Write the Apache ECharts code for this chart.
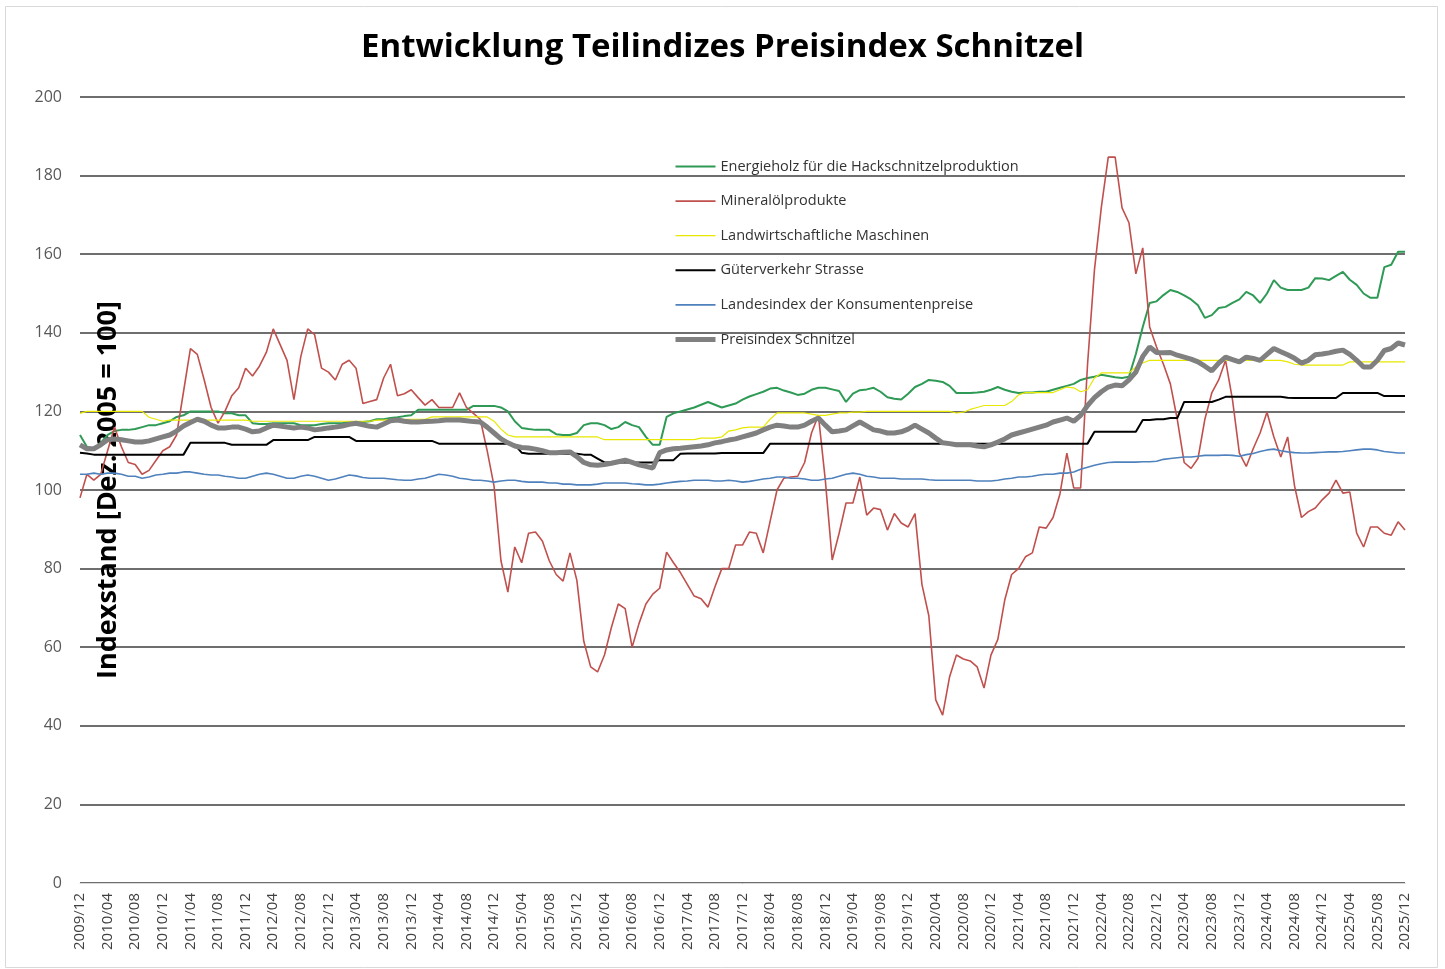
<!DOCTYPE html>
<html>
<head>
<meta charset="utf-8">
<title>Entwicklung Teilindizes Preisindex Schnitzel</title>
<script src="https://cdn.jsdelivr.net/npm/echarts@6.0.0/dist/echarts.min.js"></script>
<style>
  html, body { margin: 0; padding: 0; background: #fff; }
  #chart-container { width: 1445px; height: 969px; }
</style>
</head>
<body>
<div id="chart-container"></div>
<script>
// monthly labels 2009/12 .. 2025/12
var months = [];
for (var i = 0; i < 193; i++) {
  var m = (11 + i) % 12 + 1;
  var y = 2009 + Math.floor((11 + i) / 12);
  months.push(y + '/' + (m < 10 ? '0' + m : m));
}

// one row per year, first value = 2009/12
var energieholz = [114,
  111, 110.5, 112, 114, 115, 115.3, 115.3, 115.5, 116, 116.5, 116.5, 117,
  117.5, 118.6, 119, 120, 120, 120, 120, 120, 119.5, 119.5, 119, 119,
  117, 116.8, 116.8, 117, 117, 117, 117, 116.5, 116.5, 116.5, 116.8, 117,
  117, 117, 117.3, 117.3, 117.3, 117.5, 118, 118, 118.3, 118.5, 118.8, 119,
  120.4, 120.4, 120.4, 120.4, 120.4, 120.4, 120.4, 120.4, 121.4, 121.4, 121.4, 121.4,
  121, 120, 117.5, 115.8, 115.5, 115.3, 115.3, 115.3, 114.2, 114, 114, 114.5,
  116.5, 117, 117, 116.5, 115.5, 116, 117.3, 116.5, 116, 113.5, 111.5, 111.5,
  118.6, 119.5, 120, 120.5, 121, 121.7, 122.4, 121.7, 121, 121.5, 122, 123,
  123.8, 124.4, 125, 125.8, 126, 125.3, 124.8, 124.2, 124.5, 125.5, 126, 126,
  125.6, 125.2, 122.4, 124.5, 125.4, 125.6, 126, 125, 123.6, 123.2, 123, 124.5,
  126.2, 127, 128, 127.8, 127.5, 126.5, 124.7, 124.7, 124.7, 124.8, 125, 125.5,
  126.2, 125.5, 125, 124.7, 124.8, 124.8, 125, 125, 125.5, 126, 126.5, 127,
  128, 128.5, 128.8, 129.3, 129, 128.7, 128.5, 128.8, 134.6, 141.5, 147.6, 148,
  149.6, 150.9, 150.4, 149.5, 148.5, 147, 143.8, 144.5, 146.3, 146.6, 147.6, 148.5,
  150.4, 149.5, 147.6, 150, 153.4, 151.5, 150.9, 150.9, 150.9, 151.5, 153.9, 153.8,
  153.4, 154.5, 155.5, 153.5, 152.2, 150, 148.9, 148.9, 156.7, 157.3, 160.6, 160.6];

var mineraloel = [98,
  104, 102.5, 104, 110, 116, 111, 107, 106.5, 104, 105, 107.5, 110,
  111, 114, 125, 136, 134.5, 128, 121, 117, 120, 124, 126, 131,
  129, 131.5, 135, 141, 137, 133, 123, 134, 141, 139.5, 131, 130,
  128, 132, 133, 131, 122, 122.5, 123, 128.5, 132, 124, 124.5, 125.5,
  123.5, 121.6, 123, 121, 121, 121, 124.7, 121, 119.5, 118, 110, 101,
  82, 74, 85.5, 81.5, 89, 89.3, 87, 82, 78.5, 76.8, 84, 77,
  61.5, 55, 53.7, 58, 65, 71, 69.8, 60, 66, 71, 73.5, 75,
  84.2, 81.5, 79, 76, 73, 72.3, 70.2, 75.3, 80, 80, 86, 86,
  89.3, 89, 84, 92, 100, 103, 103.3, 103.5, 107, 114.5, 119, 102.5,
  82.2, 89, 96.7, 96.7, 103.3, 93.6, 95.4, 95, 89.8, 94, 91.6, 90.6,
  94, 76, 68, 46.6, 42.7, 52.4, 58, 57, 56.5, 55, 49.6, 58,
  62, 72, 78.5, 80, 83, 84, 90.6, 90.3, 93, 99, 109.4, 100.5,
  100.5, 132, 156, 172, 184.7, 184.7, 171.8, 168, 155, 161.6, 141.5, 136.4,
  132, 127, 118, 107, 105.5, 108, 118, 124.7, 128, 133, 123, 109.4,
  106, 110.5, 114.5, 119.8, 113.5, 108.4, 113.5, 101, 93, 94.5, 95.4, 97.5,
  99.2, 102.5, 99.2, 99.5, 89, 85.5, 90.6, 90.6, 89, 88.5, 91.9, 89.8];

var maschinen = [119.5,
  120, 120, 120, 120, 120, 120, 120, 120, 120, 118.5, 118, 117.5,
  117.8, 117.8, 117.8, 117.8, 117.8, 117.8, 117.8, 117.8, 117.8, 117.8, 117.8, 117.8,
  117.5, 117.5, 117.5, 117.5, 117.5, 117.5, 117.5, 117.5, 117.5, 117.5, 117.5, 117.5,
  117.5, 117.5, 117.5, 117.5, 117.5, 117.5, 117.8, 117.8, 118, 118, 118, 118,
  118, 118, 118.6, 118.6, 118.6, 118.6, 118.6, 118.6, 118.6, 118.6, 118.6, 117.5,
  115.5, 114, 113.5, 113.5, 113.5, 113.5, 113.5, 113.5, 113.5, 113.5, 113.5, 113.5,
  113.5, 113.5, 113.5, 112.8, 112.8, 112.8, 112.8, 112.8, 112.8, 112.8, 112.8, 112.8,
  112.8, 112.8, 112.8, 112.8, 112.8, 113.2, 113.2, 113.2, 113.5, 115, 115.3, 115.8,
  116, 116, 116, 118, 119.6, 119.6, 119.6, 119.6, 119.6, 119.3, 119, 119,
  119.3, 119.6, 119.6, 119.8, 119.8, 120, 120, 120, 120, 120, 120, 120,
  120, 120, 120, 120, 120, 120, 119.6, 119.8, 120.5, 121, 121.5, 121.5,
  121.5, 121.5, 122.5, 124.2, 124.8, 124.8, 124.8, 124.8, 124.8, 125.5, 126.2, 126,
  125, 125.5, 128.5, 129.8, 129.8, 129.8, 129.8, 129.8, 131.3, 132.3, 133, 133,
  133, 133, 133, 133, 133, 133, 133, 133, 133, 133, 133, 133,
  133, 133, 133, 133, 133, 133, 132.6, 132, 131.8, 131.8, 131.8, 131.8,
  131.8, 131.8, 131.8, 132.6, 132.6, 132.6, 132.6, 132.6, 132.6, 132.6, 132.6, 132.6];

var gueterverkehr = [109.5,
  109.3, 109, 109, 109, 109, 109, 109, 109, 109, 109, 109, 109,
  109, 109, 109, 112, 112, 112, 112, 112, 112, 111.5, 111.5, 111.5,
  111.5, 111.5, 111.5, 112.7, 112.7, 112.7, 112.7, 112.7, 112.7, 113.5, 113.5, 113.5,
  113.5, 113.5, 113.5, 112.5, 112.5, 112.5, 112.5, 112.5, 112.5, 112.5, 112.5, 112.5,
  112.5, 112.5, 112.5, 111.8, 111.8, 111.8, 111.8, 111.8, 111.8, 111.8, 111.8, 111.8,
  111.8, 111.8, 111.5, 109.5, 109.2, 109.2, 109.2, 109.2, 109.2, 109.2, 109.2, 109.2,
  109, 109, 108, 107, 107, 107, 107, 107, 107, 107, 107, 107.6,
  107.6, 107.6, 109.2, 109.3, 109.3, 109.3, 109.3, 109.3, 109.4, 109.4, 109.4, 109.4,
  109.4, 109.4, 109.4, 111.8, 111.8, 111.8, 111.8, 111.8, 111.8, 111.8, 111.8, 111.8,
  111.8, 111.8, 111.8, 111.8, 111.8, 111.8, 111.8, 111.8, 111.8, 111.8, 111.8, 111.8,
  111.8, 111.8, 111.8, 111.8, 111.8, 111.8, 111.8, 111.8, 111.8, 111.8, 111.8, 111.8,
  111.8, 111.8, 111.8, 111.8, 111.8, 111.8, 111.8, 111.8, 111.8, 111.8, 111.8, 111.8,
  111.8, 111.8, 114.8, 114.8, 114.8, 114.8, 114.8, 114.8, 114.8, 117.8, 117.8, 118,
  118, 118.3, 118.3, 122.4, 122.4, 122.4, 122.4, 122.4, 123, 123.7, 123.7, 123.7,
  123.7, 123.7, 123.7, 123.7, 123.7, 123.7, 123.5, 123.4, 123.4, 123.4, 123.4, 123.4,
  123.4, 123.4, 124.7, 124.7, 124.7, 124.7, 124.7, 124.7, 123.9, 123.9, 123.9, 123.9];

var konsumentenpreise = [104,
  104, 104.3, 104, 104.3, 104.3, 104, 103.5, 103.5, 103, 103.3, 103.8, 104,
  104.3, 104.3, 104.6, 104.6, 104.3, 104, 103.8, 103.8, 103.5, 103.3, 103, 103,
  103.5, 104, 104.3, 104, 103.5, 103, 103, 103.5, 103.8, 103.5, 103, 102.5,
  102.8, 103.3, 103.8, 103.6, 103.2, 103, 103, 103, 102.8, 102.6, 102.5, 102.5,
  102.8, 103, 103.5, 104, 103.8, 103.5, 103, 102.8, 102.5, 102.5, 102.3, 102,
  102.3, 102.5, 102.5, 102.2, 102, 102, 102, 101.8, 101.8, 101.5, 101.5, 101.3,
  101.3, 101.3, 101.5, 101.8, 101.8, 101.8, 101.8, 101.6, 101.5, 101.3, 101.3, 101.5,
  101.8, 102, 102.2, 102.3, 102.5, 102.5, 102.5, 102.3, 102.3, 102.5, 102.3, 102,
  102.2, 102.5, 102.8, 103, 103.3, 103.3, 103, 103, 102.8, 102.5, 102.5, 102.8,
  103, 103.5, 104, 104.3, 104, 103.5, 103.3, 103, 103, 103, 102.8, 102.8,
  102.8, 102.8, 102.6, 102.5, 102.5, 102.5, 102.5, 102.5, 102.5, 102.3, 102.3, 102.3,
  102.5, 102.8, 103, 103.3, 103.3, 103.5, 103.8, 104, 104, 104.3, 104.3, 104.6,
  105.3, 105.8, 106.3, 106.7, 107, 107.1, 107.1, 107.1, 107.1, 107.2, 107.2, 107.3,
  107.8, 108, 108.2, 108.4, 108.4, 108.6, 108.8, 108.8, 108.8, 108.9, 108.8, 108.6,
  109, 109.3, 109.8, 110.2, 110.4, 110, 109.7, 109.5, 109.4, 109.4, 109.5, 109.6,
  109.7, 109.7, 109.8, 110, 110.2, 110.4, 110.4, 110.2, 109.8, 109.6, 109.4, 109.4];

var schnitzel = [111.5,
  110.5, 110.5, 111.5, 112.8, 113, 112.8, 112.5, 112.2, 112.2, 112.5, 113, 113.5,
  114, 115, 116.3, 117.2, 118, 117.5, 116.5, 115.8, 115.8, 116, 116, 115.5,
  114.8, 115, 115.8, 116.5, 116.3, 116, 115.8, 116, 115.8, 115.3, 115.5, 115.8,
  116, 116.3, 116.7, 117, 116.6, 116.2, 116, 116.8, 117.6, 117.8, 117.5, 117.3,
  117.3, 117.4, 117.5, 117.6, 117.8, 117.8, 117.8, 117.6, 117.4, 117.3, 116, 114.5,
  113, 112, 111.2, 110.8, 110.7, 110.4, 110, 109.5, 109.5, 109.6, 109.7, 108.5,
  107, 106.4, 106.3, 106.5, 106.8, 107.2, 107.6, 107, 106.4, 106, 105.6, 109.5,
  110.2, 110.5, 110.6, 110.8, 111, 111.2, 111.5, 112, 112.3, 112.7, 113, 113.5,
  114, 114.5, 115.3, 116, 116.5, 116.3, 116, 116, 116.5, 117.5, 118.3, 116.5,
  114.8, 115, 115.3, 116.3, 117.3, 116.3, 115.3, 115, 114.5, 114.5, 114.8, 115.5,
  116.5, 115.5, 114.5, 113.2, 112, 111.8, 111.5, 111.5, 111.5, 111.2, 111, 111.5,
  112.2, 113, 114, 114.5, 115, 115.5, 116, 116.5, 117.3, 117.8, 118.3, 117.5,
  119, 121.5, 123.5, 125, 126.2, 126.7, 126.5, 128, 130, 134, 136.4, 135,
  134.9, 135, 134.3, 133.8, 133.3, 132.6, 131.5, 130.3, 132.3, 133.8, 133.2, 132.6,
  133.8, 133.5, 133, 134.5, 136, 135.2, 134.4, 133.5, 132.3, 133, 134.4, 134.6,
  134.9, 135.3, 135.6, 134.5, 133, 131.3, 131.3, 133, 135.5, 136, 137.4, 136.9];

var seriesNames = [
  'Energieholz für die Hackschnitzelproduktion',
  'Mineralölprodukte',
  'Landwirtschaftliche Maschinen',
  'Güterverkehr Strasse',
  'Landesindex der Konsumentenpreise',
  'Preisindex Schnitzel'
];
var seriesData = [energieholz, mineraloel, maschinen, gueterverkehr, konsumentenpreise, schnitzel];
var seriesColors = ['#2e9a55', '#c0504d', '#e8e800', '#000000', '#4f81bd', '#808080'];
var seriesWidths = [2, 1.6, 1.2, 2, 1.6, 5];

var dom = document.getElementById('chart-container');
var myChart = echarts.init(dom, null, { renderer: 'canvas' });

var option = {
  animation: false,
  backgroundColor: '#ffffff',
  textStyle: { fontFamily: 'Open Sans' },
  title: {
    text: 'Entwicklung Teilindizes Preisindex Schnitzel',
    left: 'center',
    top: 26,
    textStyle: { fontFamily: 'Open Sans', fontSize: 33, fontWeight: 'bold', color: '#000' }
  },
  graphic: [{
    type: 'rect',
    shape: { x: 5.5, y: 6.5, width: 1432, height: 961 },
    style: { fill: 'none', stroke: '#d9d9d9', lineWidth: 1 },
    silent: true
  }],
  legend: {
    orient: 'vertical',
    left: 668,
    top: 154,
    itemWidth: 40,
    itemHeight: 14,
    itemGap: 19.6,
    itemStyle: { opacity: 0 },
    data: seriesNames.map(function (name, k) {
      return { name: name, lineStyle: { color: seriesColors[k], width: seriesWidths[k] } };
    }),
    textStyle: { fontFamily: 'Open Sans', fontSize: 14.5, color: '#333' }
  },
  grid: { left: 80, right: 40, top: 97, bottom: 86 },
  xAxis: {
    type: 'category',
    data: months,
    boundaryGap: false,
    axisLine: { lineStyle: { color: '#d9d9d9', width: 1 } },
    axisTick: { show: false },
    axisLabel: {
      interval: 3,
      rotate: 90,
      margin: 10,
      hideOverlap: false,
      fontFamily: 'Open Sans',
      fontSize: 15,
      color: '#404040'
    },
    splitLine: { show: false }
  },
  yAxis: {
    type: 'value',
    min: 0,
    max: 200,
    interval: 20,
    name: 'Indexstand [Dez. 2005 = 100]',
    nameLocation: 'middle',
    nameRotate: 90,
    nameGap: -42,
    nameTextStyle: { fontFamily: 'Open Sans', fontSize: 27, fontWeight: 'bold', color: '#000' },
    axisLine: { show: false },
    axisTick: { show: false },
    axisLabel: { margin: 18, fontFamily: 'Open Sans', fontSize: 16, color: '#595959' },
    splitLine: { lineStyle: { color: '#6e6e6e', width: 2 } }
  },
  series: seriesNames.map(function (name, k) {
    return {
      name: name,
      type: 'line',
      data: seriesData[k],
      symbol: 'none',
      color: seriesColors[k],
      lineStyle: { color: seriesColors[k], width: seriesWidths[k] }
    };
  })
};

if (option && typeof option === 'object') {
  myChart.setOption(option);
}

window.addEventListener('resize', myChart.resize);
</script>
</body>
</html>
